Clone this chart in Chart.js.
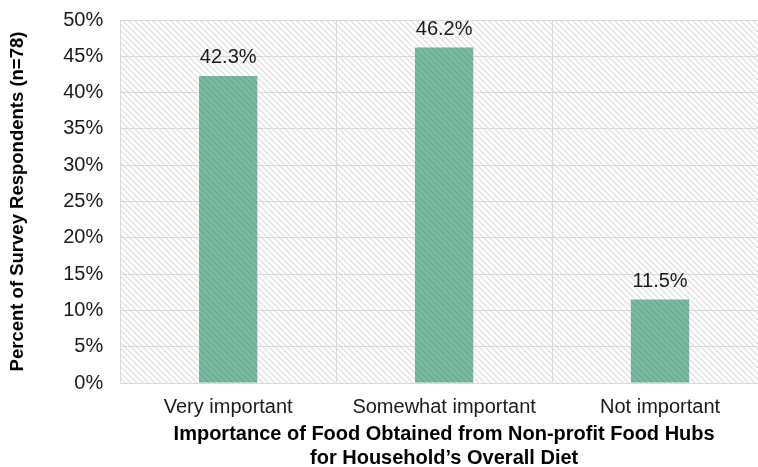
<!DOCTYPE html>
<html>
<head>
<meta charset="utf-8">
<script src="https://cdn.jsdelivr.net/npm/chart.js@4/dist/chart.umd.min.js"></script>
<style>
  html, body { margin: 0; padding: 0; background: #fff; overflow: hidden; }
  #wrap { width: 768px; height: 467px; }
</style>
</head>
<body>
<div id="wrap"><canvas id="chart" width="768" height="467"></canvas></div>
<script>
const categories = ['Very important', 'Somewhat important', 'Not important'];
const percentValues = [42.3, 46.2, 11.5];
const xTitleLines = ['Importance of Food Obtained from Non-profit Food Hubs', 'for Household\u2019s Overall Diet'];
const yTitle = 'Percent of Survey Respondents (n=78)';

const FONT = '"Liberation Sans", Arial, Helvetica, sans-serif';

// diagonal hatch pattern
function makeHatch(bg, line) {
    const size = 6;
    const c = document.createElement('canvas');
    c.width = size; c.height = size;
    const g = c.getContext('2d');
    g.fillStyle = bg;
    g.fillRect(0, 0, size, size);
    g.strokeStyle = line;
    g.lineWidth = 1.2;
    g.beginPath();
    g.moveTo(-1, -1); g.lineTo(size + 1, size + 1);
    g.moveTo(-1, size - 1); g.lineTo(1, size + 1);
    g.moveTo(size - 1, -1); g.lineTo(size + 1, 1);
    g.stroke();
    return g.createPattern(c, 'repeat');
}

const ctx = document.getElementById('chart').getContext('2d');
const plotHatch = makeHatch('#ffffff', '#dcdcdc');
const barHatch = makeHatch('#7cb9a1', '#6aa78f');

const plotBackground = {
    id: 'plotBackground',
    beforeDraw(chart) {
        const a = chart.chartArea;
        const c = chart.ctx;
        c.save();
        c.fillStyle = plotHatch;
        c.fillRect(a.left, a.top, a.right - a.left, a.bottom - a.top);
        c.restore();
    }
};

const valueLabels = {
    id: 'valueLabels',
    afterDatasetsDraw(chart) {
        const c = chart.ctx;
        const meta = chart.getDatasetMeta(0);
        c.save();
        c.font = '20px ' + FONT;
        c.fillStyle = '#1a1a1a';
        c.textAlign = 'center';
        c.textBaseline = 'alphabetic';
        meta.data.forEach((bar, i) => {
            c.fillText(percentValues[i].toFixed(1) + '%', bar.x, bar.y - 13);
        });
        c.restore();
    }
};

new Chart(ctx, {
    type: 'bar',
    data: {
        labels: categories,
        datasets: [{
            data: percentValues,
            backgroundColor: barHatch,
            borderWidth: 0,
            barPercentage: 0.27,
            categoryPercentage: 1
        }]
    },
    options: {
        responsive: false,
        animation: false,
        devicePixelRatio: 1,
        layout: { padding: { left: 7, top: 0, right: 0, bottom: 0 } },
        plugins: { legend: { display: false }, tooltip: { enabled: false } },
        scales: {
            x: {
                grid: { color: '#d9d9d9', lineWidth: 1, drawTicks: false, offset: true },
                border: { color: '#d9d9d9' },
                ticks: { color: '#1a1a1a', font: { family: FONT, size: 20 }, padding: 12 },
                title: {
                    display: true,
                    text: xTitleLines,
                    color: '#000',
                    font: { family: FONT, size: 20, weight: 'bold', lineHeight: 1.2 },
                    padding: { top: -9, bottom: -3 }
                }
            },
            y: {
                min: 0,
                max: 50,
                grid: { color: '#d9d9d9', lineWidth: 1, drawTicks: false },
                border: { color: '#d9d9d9' },
                ticks: {
                    stepSize: 5,
                    color: '#1a1a1a',
                    font: { family: FONT, size: 20, lineHeight: 0.3 },
                    padding: 17,
                    callback: v => v + '%'
                },
                title: {
                    display: true,
                    text: yTitle,
                    color: '#000',
                    font: { family: FONT, size: 18.5, weight: 'bold' },
                    padding: { top: 0, bottom: 17 }
                }
            }
        }
    },
    plugins: [plotBackground, valueLabels]
});
</script>
</body>
</html>
